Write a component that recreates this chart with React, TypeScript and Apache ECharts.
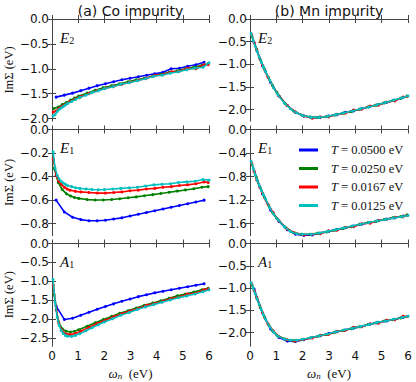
import React, { useEffect, useRef } from "react";
import * as echarts from "echarts";

const seriesNames = ["T=0.0500 eV", "T=0.0250 eV", "T=0.0167 eV", "T=0.0125 eV"];
const seriesColors = ["#0000ff", "#008000", "#ff0000", "#00bfbf"];
const panelTitles = ["(a) Co impurity", "(b) Mn impurity"];
const panelLabels = [["E", "2"], ["E", "1"], ["A", "1"]];

// Matsubara frequencies (eV) sampled for each temperature
const xB = [0.157, 0.471, 0.785, 1.1, 1.414, 1.728, 2.042, 2.356, 2.67, 2.985, 3.299, 3.613, 3.927, 4.241, 4.555, 4.869, 5.184, 5.498, 5.812];
const xG = [0.08, 0.24, 0.39, 0.55, 0.71, 0.86, 1.02, 1.34, 1.65, 1.96, 2.28, 2.59, 2.91, 3.22, 3.53, 3.85, 4.16, 4.48, 4.79, 5.1, 5.42, 5.73, 5.97];
const xR = [0.05, 0.16, 0.26, 0.37, 0.47, 0.58, 0.68, 0.89, 1.1, 1.41, 1.73, 2.04, 2.36, 2.67, 2.98, 3.3, 3.61, 3.93, 4.24, 4.56, 4.87, 5.18, 5.5, 5.81, 5.97];
const xC = [0.04, 0.12, 0.2, 0.27, 0.35, 0.43, 0.51, 0.59, 0.75, 0.9, 1.06, 1.3, 1.53, 1.77, 2.0, 2.32, 2.63, 2.95, 3.26, 3.57, 3.89, 4.2, 4.52, 4.83, 5.15, 5.46, 5.77, 6.0];

// (a) Co impurity, E2
const coE2B = [-1.57, -1.53, -1.49, -1.44, -1.39, -1.34, -1.3, -1.26, -1.22, -1.19, -1.16, -1.13, -1.1, -1.07, -1.0, -0.99, -0.95, -0.92, -0.87];
const coE2G = [-1.8, -1.77, -1.72, -1.68, -1.63, -1.59, -1.55, -1.49, -1.43, -1.38, -1.34, -1.3, -1.26, -1.22, -1.19, -1.15, -1.11, -1.07, -1.04, -1.0, -0.97, -0.93, -0.9];
const coE2R = [-1.87, -1.85, -1.8, -1.76, -1.73, -1.7, -1.66, -1.61, -1.56, -1.5, -1.44, -1.39, -1.35, -1.31, -1.27, -1.23, -1.19, -1.13, -1.12, -1.06, -1.05, -0.99, -1.0, -0.92, -0.92];
const coE2C = [-1.95, -1.92, -1.86, -1.82, -1.79, -1.76, -1.73, -1.7, -1.66, -1.62, -1.58, -1.53, -1.48, -1.44, -1.4, -1.36, -1.31, -1.28, -1.24, -1.2, -1.15, -1.13, -1.09, -1.06, -1.02, -0.99, -0.97, -0.88];

// (a) Co impurity, E1
const coE1B = [-0.6, -0.7, -0.745, -0.765, -0.775, -0.775, -0.77, -0.76, -0.75, -0.735, -0.72, -0.705, -0.69, -0.675, -0.66, -0.645, -0.63, -0.615, -0.6];
const coE1G = [-0.33, -0.45, -0.51, -0.545, -0.565, -0.578, -0.585, -0.595, -0.598, -0.598, -0.594, -0.588, -0.58, -0.572, -0.562, -0.553, -0.543, -0.533, -0.523, -0.513, -0.503, -0.49, -0.485];
const coE1R = [-0.25, -0.39, -0.44, -0.47, -0.49, -0.505, -0.515, -0.525, -0.53, -0.535, -0.54, -0.54, -0.535, -0.53, -0.52, -0.515, -0.505, -0.5, -0.49, -0.485, -0.475, -0.47, -0.46, -0.445, -0.45];
const coE1C = [-0.19, -0.33, -0.39, -0.42, -0.44, -0.455, -0.465, -0.475, -0.485, -0.495, -0.5, -0.505, -0.51, -0.512, -0.51, -0.505, -0.5, -0.495, -0.49, -0.48, -0.47, -0.465, -0.46, -0.45, -0.445, -0.44, -0.425, -0.43];

// (a) Co impurity, A1
const coA1B = [-1.65, -2.0, -1.97, -1.89, -1.81, -1.73, -1.66, -1.59, -1.52, -1.46, -1.4, -1.35, -1.3, -1.26, -1.22, -1.18, -1.14, -1.1, -1.06];
const coA1G = [-1.35, -2.05, -2.25, -2.31, -2.33, -2.31, -2.27, -2.18, -2.09, -2.0, -1.92, -1.84, -1.77, -1.7, -1.63, -1.57, -1.51, -1.44, -1.38, -1.33, -1.28, -1.22, -1.18];
const coA1R = [-1.1, -1.75, -2.1, -2.28, -2.36, -2.39, -2.4, -2.37, -2.31, -2.21, -2.11, -2.02, -1.93, -1.85, -1.78, -1.71, -1.63, -1.58, -1.52, -1.45, -1.41, -1.33, -1.31, -1.22, -1.2];
const coA1C = [-0.95, -1.55, -1.95, -2.15, -2.29, -2.37, -2.42, -2.44, -2.45, -2.42, -2.38, -2.3, -2.22, -2.14, -2.07, -1.98, -1.89, -1.82, -1.74, -1.67, -1.61, -1.55, -1.49, -1.43, -1.38, -1.33, -1.27, -1.22];

// (b) Mn impurity, E2
const mnE2B = [-0.52, -1.03, -1.4, -1.7, -1.91, -2.06, -2.14, -2.18, -2.17, -2.14, -2.11, -2.06, -2.03, -1.98, -1.93, -1.89, -1.84, -1.79, -1.73];
const mnE2G = [-0.39, -0.66, -0.9, -1.11, -1.3, -1.47, -1.62, -1.87, -2.03, -2.12, -2.16, -2.17, -2.15, -2.12, -2.08, -2.04, -1.99, -1.94, -1.9, -1.85, -1.8, -1.75, -1.7];
const mnE2R = [-0.33, -0.53, -0.69, -0.87, -1.02, -1.15, -1.28, -1.51, -1.7, -1.91, -2.05, -2.14, -2.19, -2.16, -2.16, -2.1, -2.08, -2.01, -1.99, -1.92, -1.9, -1.83, -1.81, -1.72, -1.71];
const mnE2C = [-0.32, -0.47, -0.6, -0.72, -0.84, -0.95, -1.06, -1.16, -1.35, -1.52, -1.67, -1.85, -1.98, -2.07, -2.13, -2.17, -2.17, -2.15, -2.11, -2.07, -2.03, -1.98, -1.94, -1.89, -1.84, -1.79, -1.74, -1.7];

// (b) Mn impurity, E1
const mnE1B = [-0.71, -1.09, -1.37, -1.56, -1.7, -1.78, -1.8, -1.79, -1.76, -1.73, -1.7, -1.67, -1.64, -1.61, -1.58, -1.55, -1.52, -1.5, -1.47];
const mnE1G = [-0.6, -0.81, -0.99, -1.15, -1.29, -1.41, -1.51, -1.66, -1.75, -1.78, -1.78, -1.76, -1.74, -1.71, -1.68, -1.65, -1.61, -1.58, -1.56, -1.53, -1.5, -1.48, -1.45];
const mnE1R = [-0.56, -0.72, -0.86, -0.98, -1.08, -1.18, -1.27, -1.42, -1.55, -1.69, -1.76, -1.79, -1.78, -1.77, -1.72, -1.71, -1.66, -1.65, -1.6, -1.59, -1.54, -1.53, -1.49, -1.48, -1.46];
const mnE1C = [-0.54, -0.66, -0.77, -0.86, -0.95, -1.03, -1.11, -1.18, -1.33, -1.44, -1.53, -1.65, -1.73, -1.77, -1.78, -1.78, -1.76, -1.73, -1.7, -1.67, -1.64, -1.61, -1.58, -1.55, -1.53, -1.5, -1.48, -1.46];

// (b) Mn impurity, A1
const mnA1B = [-1.02, -1.56, -1.92, -2.11, -2.19, -2.2, -2.16, -2.11, -2.07, -2.02, -1.98, -1.94, -1.9, -1.86, -1.81, -1.77, -1.74, -1.7, -1.66];
const mnA1G = [-0.94, -1.2, -1.44, -1.65, -1.83, -1.96, -2.06, -2.15, -2.18, -2.16, -2.12, -2.08, -2.04, -1.99, -1.95, -1.91, -1.87, -1.82, -1.78, -1.74, -1.71, -1.67, -1.64];
const mnA1R = [-0.9, -1.06, -1.22, -1.39, -1.55, -1.69, -1.8, -1.97, -2.09, -2.16, -2.19, -2.15, -2.12, -2.06, -2.04, -1.97, -1.95, -1.88, -1.87, -1.8, -1.79, -1.72, -1.71, -1.63, -1.64];
const mnA1C = [-0.88, -1.0, -1.13, -1.25, -1.37, -1.49, -1.6, -1.7, -1.87, -1.99, -2.08, -2.14, -2.17, -2.17, -2.15, -2.11, -2.07, -2.03, -1.98, -1.94, -1.9, -1.86, -1.82, -1.77, -1.74, -1.7, -1.66, -1.63];

// y-axis ranges and tick labels for each panel
const yMinCo = [-2.05, -0.9, -2.7];
const yMinMn = [-2.25, -1.8, -2.3];
const yTicksCoE2 = [0, -0.5, -1.0, -1.5, -2.0];
const yTicksCoE1 = [0, -0.2, -0.4, -0.6, -0.8];
const yTicksCoA1 = [0, -0.5, -1.0, -1.5, -2.0, -2.5];
const yTicksMnE2 = [0, -0.5, -1.0, -1.5, -2.0];
const yTicksMnE1 = [0, -0.4, -0.8, -1.2, -1.6];
const yTicksMnA1 = [0, -0.5, -1.0, -1.5, -2.0];

const xGrids = [xB, xG, xR, xC];

export default function App() {
  const ref = useRef<HTMLDivElement>(null);
  useEffect(() => {
    if (!ref.current) return;
    const chart = echarts.init(ref.current, undefined, { renderer: "svg" });

    const cols = [
      { left: 52, width: 157 },
      { left: 250, width: 158 },
    ];
    const rows = [
      { top: 19, height: 102 },
      { top: 129.5, height: 106 },
      { top: 243.5, height: 102.5 },
    ];
    const panels = [
      { row: 0, col: 0, min: yMinCo[0], ticks: yTicksCoE2, ys: [coE2B, coE2G, coE2R, coE2C] },
      { row: 0, col: 1, min: yMinMn[0], ticks: yTicksMnE2, ys: [mnE2B, mnE2G, mnE2R, mnE2C] },
      { row: 1, col: 0, min: yMinCo[1], ticks: yTicksCoE1, ys: [coE1B, coE1G, coE1R, coE1C] },
      { row: 1, col: 1, min: yMinMn[1], ticks: yTicksMnE1, ys: [mnE1B, mnE1G, mnE1R, mnE1C] },
      { row: 2, col: 0, min: yMinCo[2], ticks: yTicksCoA1, ys: [coA1B, coA1G, coA1R, coA1C] },
      { row: 2, col: 1, min: yMinMn[2], ticks: yTicksMnA1, ys: [mnA1B, mnA1G, mnA1R, mnA1C] },
    ];

    const frame = "#444";
    const sans = "DejaVu Sans";
    const serif = "Liberation Serif";
    const fmtY = (v: number) => (v < 0 ? "\u2212" : "") + Math.abs(v).toFixed(1);

    const grid: any[] = [];
    const xAxis: any[] = [];
    const yAxis: any[] = [];
    const series: any[] = [];
    const graphic: any[] = [];

    panels.forEach((p, i) => {
      const c = cols[p.col];
      const r = rows[p.row];
      grid.push({ left: c.left, top: r.top, width: c.width, height: r.height, containLabel: false });
      const isBottom = p.row === 2;
      xAxis.push({
        type: "value",
        gridIndex: i,
        position: "bottom",
        min: 0,
        max: 6,
        interval: 1,
        axisLine: { show: true, lineStyle: { color: frame, width: 1 } },
        axisTick: { show: true, inside: true, length: 4, lineStyle: { color: frame } },
        axisLabel: {
          show: isBottom,
          color: "#111",
          fontFamily: sans,
          fontSize: 12,
          margin: 4,
          formatter: (v: number) => String(v),
        },
        splitLine: { show: false },
        name: isBottom ? "{i|\u03c9}{s|n}{r|  (eV)}" : "",
        nameLocation: "middle",
        nameGap: 18,
        nameTextStyle: {
          rich: {
            i: { fontFamily: serif, fontStyle: "italic", fontSize: 13, color: "#111", lineHeight: 16, verticalAlign: "bottom" },
            s: { fontFamily: serif, fontStyle: "italic", fontSize: 9, color: "#111", lineHeight: 9, padding: [7, 0, 0, 0], verticalAlign: "bottom" },
            r: { fontFamily: serif, fontSize: 13, color: "#111", lineHeight: 16, verticalAlign: "bottom" },
          },
        },
      });
      xAxis.push({
        type: "value",
        gridIndex: i,
        position: "top",
        min: 0,
        max: 6,
        interval: 1,
        axisLine: { show: true, lineStyle: { color: frame, width: 1 } },
        axisTick: { show: true, inside: true, length: 4, lineStyle: { color: frame } },
        axisLabel: { show: false },
        splitLine: { show: false },
      });
      yAxis.push({
        type: "value",
        gridIndex: i,
        position: "left",
        min: p.min,
        max: 0,
        axisLine: { show: true, lineStyle: { color: frame, width: 1 } },
        axisTick: { show: true, inside: true, length: 4, lineStyle: { color: frame }, customValues: p.ticks },
        axisLabel: {
          show: true,
          color: "#111",
          fontFamily: sans,
          fontSize: 12,
          margin: 3,
          customValues: p.ticks,
          formatter: fmtY,
        },
        splitLine: { show: false },
        name: p.col === 0 ? "Im\u03a3 (eV)" : "",
        nameLocation: "middle",
        nameRotate: 90,
        nameGap: 36,
        nameTextStyle: { fontFamily: serif, fontSize: 12.5, color: "#111" },
      });
      yAxis.push({
        type: "value",
        gridIndex: i,
        position: "right",
        min: p.min,
        max: 0,
        axisLine: { show: true, lineStyle: { color: frame, width: 1 } },
        axisTick: { show: true, inside: true, length: 4, lineStyle: { color: frame }, customValues: p.ticks },
        axisLabel: { show: false, customValues: p.ticks },
        splitLine: { show: false },
      });

      p.ys.forEach((ys, k) => {
        const xs = xGrids[k];
        series.push({
          type: "line",
          name: seriesNames[k],
          xAxisIndex: 2 * i,
          yAxisIndex: 2 * i,
          data: xs.map((x, j) => [x, ys[j]]),
          symbol: "circle",
          symbolSize: 3,
          showSymbol: true,
          showAllSymbol: true,
          lineStyle: { color: seriesColors[k], width: 1.6 },
          itemStyle: { color: seriesColors[k] },
          emphasis: { disabled: true },
          z: 2 + k,
        });
      });

      const lab = panelLabels[p.row];
      graphic.push({
        type: "text",
        x: c.left + 8,
        y: r.top + 17,
        style: {
          text: `{i|${lab[0]}}{s|${lab[1]}}`,
          verticalAlign: "middle",
          align: "left",
          rich: {
            i: { fontFamily: serif, fontStyle: "italic", fontSize: 15, fill: "#111", lineHeight: 18, verticalAlign: "bottom" },
            s: { fontFamily: serif, fontSize: 10, fill: "#111", lineHeight: 10, padding: [8, 0, 0, 0], verticalAlign: "bottom" },
          },
        },
      });
    });

    cols.forEach((c, k) => {
      graphic.push({
        type: "text",
        x: c.left + c.width / 2,
        y: 11,
        style: {
          text: panelTitles[k],
          fontFamily: sans,
          fontSize: 14,
          fill: "#111",
          align: "center",
          verticalAlign: "middle",
        },
      });
    });

    chart.setOption({
      animation: false,
      backgroundColor: "#fff",
      grid,
      xAxis,
      yAxis,
      series,
      graphic,
      legend: {
        data: seriesNames,
        orient: "vertical",
        left: 294,
        top: 138,
        itemWidth: 19,
        itemHeight: 3,
        itemGap: 4.5,
        icon: "rect",
        selectedMode: false,
        formatter: (name: string) => `{i|T}{r|${name.slice(1).replace("=", " = ")}}`,
        textStyle: {
          padding: [0, 0, 0, 8],
          lineHeight: 14,
          rich: {
            i: { fontFamily: serif, fontStyle: "italic", fontSize: 12.5, color: "#111", lineHeight: 14 },
            r: { fontFamily: serif, fontSize: 12.5, color: "#111", lineHeight: 14 },
          },
        },
      },
    });
    return () => chart.dispose();
  }, []);
  return <div ref={ref} style={{ position: "absolute", left: 0, top: 0, width: 416, height: 382 }} />;
}
